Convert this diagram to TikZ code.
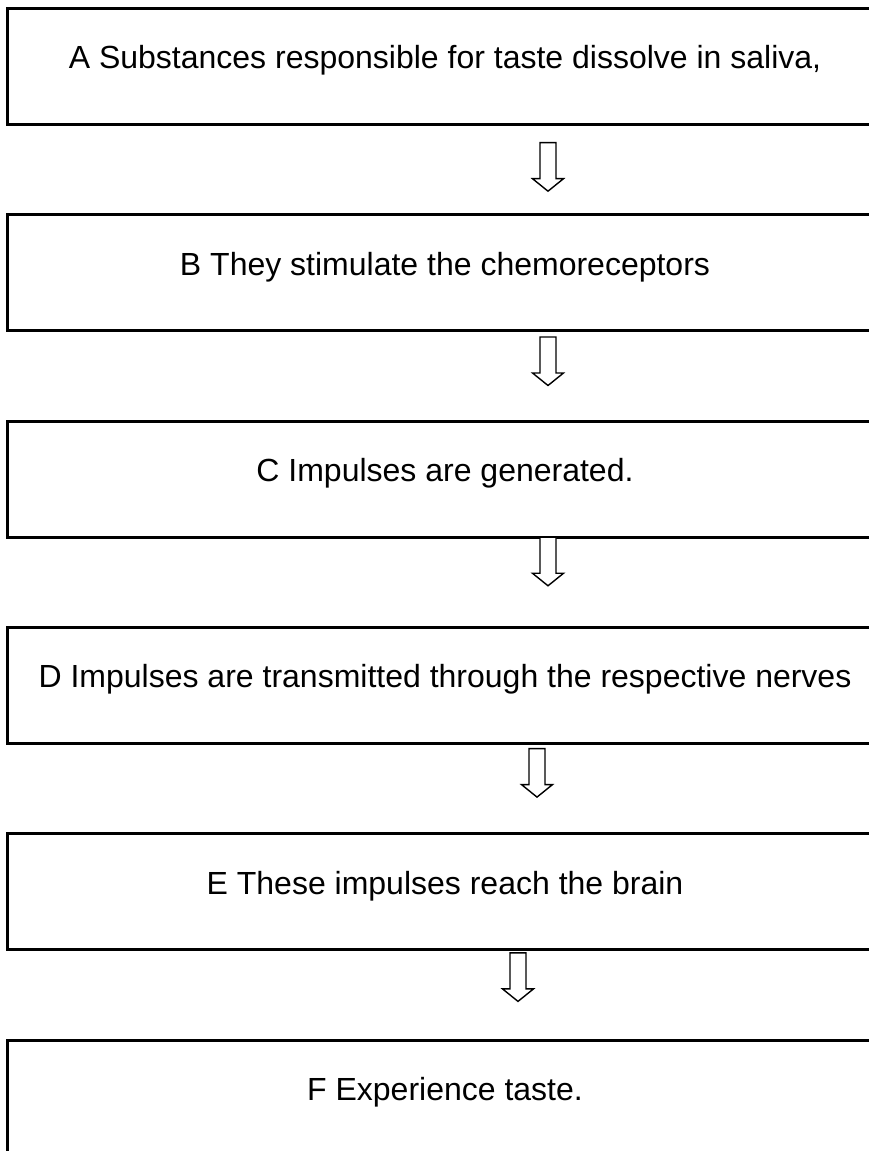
\documentclass[tikz,border=0pt]{standalone}
\usepackage{fontspec}
\setmainfont{Liberation Sans}
\usetikzlibrary{positioning}

\tikzset{
  stagebox/.style={draw=drawColor, line width=3pt, outer sep=0pt, rectangle,
    minimum width=875pt, minimum height=116pt, text height=30pt, text depth=25.4pt,
    font=\fontsize{32}{38}\selectfont},
  hollowarrow/.style={draw=drawColor, line width=1.4pt, fill=white, line join=miter},
}

\newcommand{\flowarrow}[1]{%
  \path[hollowarrow] (#1) ++(-8,0) -- ++(0,-36) -- ++(-7.5,0) -- ++(15.5,-12.5)
    -- ++(15.5,12.5) -- ++(-7.5,0) -- ++(0,36) -- cycle;}

\begin{document}
\begin{tikzpicture}[x=1pt,y=1pt]
\definecolor{drawColor}{RGB}{0,0,0}
\path[use as bounding box,fill=white] (0,0) rectangle (869,1151);

% stages
\node[stagebox] (A) at (445,1084.3) {A Substances responsible for taste dissolve in saliva,};
\node[stagebox,below=90.3pt of A] (B) {B They stimulate the chemoreceptors};
\node[stagebox,below=90.3pt of B] (C) {C Impulses are generated.};
\node[stagebox,below=90.3pt of C] (D) {D Impulses are transmitted through the respective nerves};
\node[stagebox,below=90.3pt of D] (E) {E These impulses reach the brain};
\node[stagebox,below=90.3pt of E] (F) {F Experience taste.};

% arrows
\coordinate (AB) at ([xshift=103pt,yshift=-18pt]A.south);
\coordinate (BC) at ([xshift=103pt,yshift=-6pt]B.south);
\coordinate (CD) at ([xshift=103pt]C.south);
\coordinate (DE) at ([xshift=92pt,yshift=-5pt]D.south);
\coordinate (EF) at ([xshift=73pt,yshift=-3pt]E.south);
\foreach \a in {AB,BC,CD,DE,EF}
  \flowarrow{\a};
\end{tikzpicture}
\end{document}
